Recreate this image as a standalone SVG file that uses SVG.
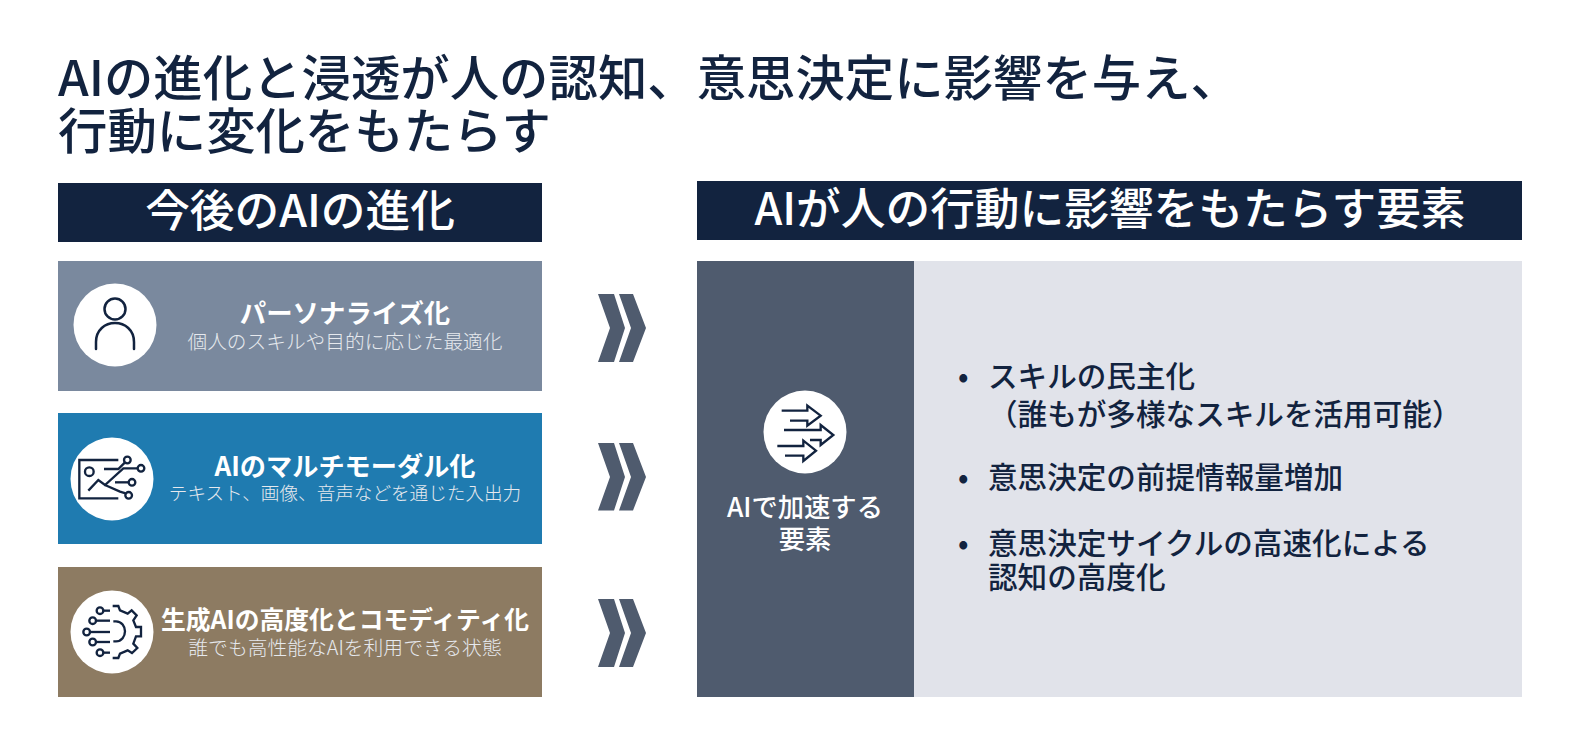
<svg xmlns="http://www.w3.org/2000/svg" width="1580" height="755" viewBox="0 0 1580 755">
<style>
text{font-family:"Noto Sans CJK JP","Noto Sans",sans-serif;fill:#fff}
.t{font-size:49.4px;font-weight:500;fill:#12233f}
.h{font-size:44.7px;font-weight:500;text-anchor:middle}
.a{font-weight:700;text-anchor:middle}
.b{font-weight:300;text-anchor:middle;fill:#e6e9ee}
.r{font-size:29.6px;font-weight:500;fill:#12233f}
.p{font-size:26.3px;font-weight:500}
.i{fill:none;stroke:#12233f;stroke-width:2.5;stroke-linecap:round;stroke-linejoin:round}
.j{fill:none;stroke:#12233f;stroke-width:7;stroke-linecap:butt;stroke-linejoin:miter}
.c{fill:#4f5b6e}
</style>
<rect width="1580" height="755" fill="#fff"/>
<g id="title"><text class="t" x="58" y="96">AIの進化と浸透が人の認知、意思決定に影響を与え、</text><text class="t" x="58" y="149">行動に変化をもたらす</text></g>
<g id="header-left"><rect x="58" y="183" width="484" height="59" fill="#12233f"/><text class="h" x="300" y="227">今後のAIの進化</text></g>
<g id="header-right"><rect x="697" y="181" width="825" height="59" fill="#12233f"/><text class="h" x="1110" y="225">AIが人の行動に影響をもたらす要素</text></g>
<g id="node-personalize"><rect x="58" y="261" width="484" height="130" fill="#7a899e"/><circle cx="115" cy="325" r="41.5" fill="#fff"/><circle class="i" cx="115" cy="309" r="10.5"/><path class="i" d="M96 349V342C96 330 105 323 115 323S134 330 134 342V349"/><text class="a" font-size="26.4" x="345" y="323">パーソナライズ化</text><text class="b" font-size="19.7" x="345" y="349">個人のスキルや目的に応じた最適化</text></g>
<g id="node-multimodal"><rect x="58" y="413" width="484" height="131" fill="#1f7bb0"/><circle cx="112" cy="479" r="41.5" fill="#fff"/>
<g class="j" transform="translate(60 430) scale(.3333)"><path d="M175 90H58V205H175"/><circle cx="88" cy="125" r="13"/><path d="M132 117H175L195 97"/><circle cx="202" cy="90" r="10"/><path d="M85 182L115 150L135 165L190 115H232"/><circle cx="243" cy="115" r="10"/><path d="M165 157H205"/><circle cx="216" cy="157" r="10"/><path d="M135 165L180 185L197 190"/><circle cx="206" cy="196" r="10"/></g>
<text class="a" font-size="26.2" x="345" y="476">AIのマルチモーダル化</text><text class="b" font-size="18.6" x="345" y="500">テキスト、画像、音声などを通じた入出力</text></g>
<g id="node-genai"><rect x="58" y="567" width="484" height="130" fill="#8d7b62"/><circle cx="112" cy="632" r="41.5" fill="#fff"/>
<g class="j" transform="translate(60 582) scale(.3333)"><path d="M158 72H175L180 85L203 95L215 85L230 100L220 115L228 135H243V163H228L220 185L232 198L216 213L203 205L180 215L175 228H158"/><circle cx="120" cy="86" r="10"/><path d="M132 86H150"/><circle cx="98" cy="116" r="10"/><path d="M110 116H150"/><circle cx="80" cy="150" r="10"/><path d="M92 150H150"/><circle cx="98" cy="180" r="10"/><path d="M110 180H150"/><circle cx="120" cy="212" r="10"/><path d="M132 212H150"/><path d="M160 118H168C185 118 195 133 195 148S185 178 168 178H160"/></g>
<text class="a" font-size="24.8" x="345" y="629">生成AIの高度化とコモディティ化</text><text class="b" font-size="19.8" x="345" y="655">誰でも高性能なAIを利用できる状態</text></g>
<g id="connectors">
<path id="chev1" class="c" d="M598 294H614L625 328L614 362H598L610 328ZM619 294H633L646 328L633 362H619L631 328Z"/>
<path id="chev2" class="c" d="M598 443H614L625 477L614 510.500H598L610 477ZM619 443H633L646 477L633 510.500H619L631 477Z"/>
<path id="chev3" class="c" d="M598 599H614L625 633L614 667H598L610 633ZM619 599H633L646 633L633 667H619L631 633Z"/>
</g>
<g id="panel-left"><rect x="697" y="261" width="217" height="436" fill="#4f5b6e"/><circle cx="805" cy="432" r="41.5" fill="#fff"/>
<g class="j" transform="translate(755 385) scale(.3333)"><path d="M80 77H157V62L197 92L157 122V107H105"/><path d="M87 135H197V120L235 150L197 180V165H165"/><path d="M67 183H145V167L183 197L145 228V212H90"/></g>
<text class="p" x="727" y="517">AIで加速する</text><text class="p" x="805" y="549" text-anchor="middle">要素</text></g>
<g id="panel-right"><rect x="914" y="261" width="608" height="436" fill="#e1e3ea"/>
<text class="r" x="958" y="387">•</text><text class="r" x="988" y="387">スキルの民主化</text><text class="r" x="988" y="425">（誰もが多様なスキルを活用可能）</text>
<text class="r" x="958" y="488">•</text><text class="r" x="988" y="488">意思決定の前提情報量増加</text>
<text class="r" x="958" y="554">•</text><text class="r" x="988" y="554">意思決定サイクルの高速化による</text><text class="r" x="988" y="588">認知の高度化</text></g>
</svg>
